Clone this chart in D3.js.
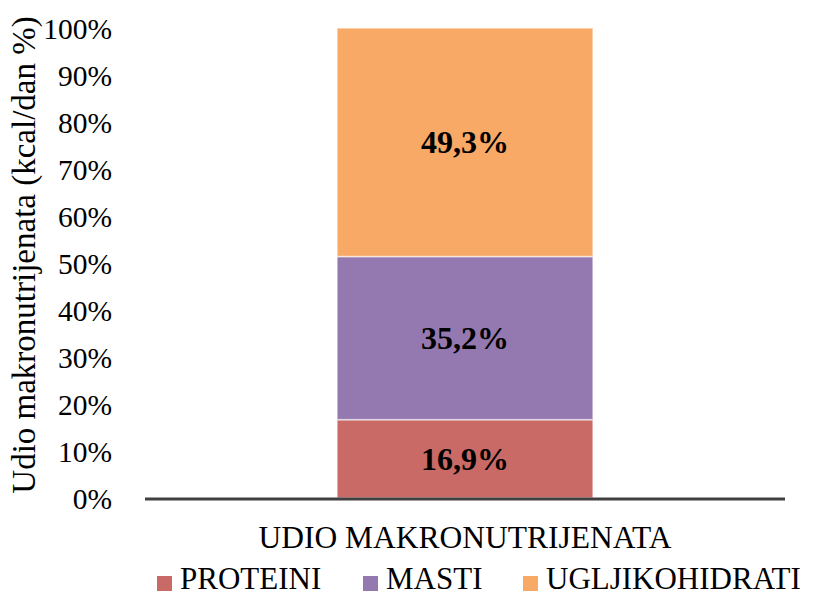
<!DOCTYPE html>
<html lang="en">
<head>
  <meta charset="UTF-8">
  <title>Udio makronutrijenata</title>
  <style>
    body { margin: 0; background: #fff; }
    svg text { font-family: "Liberation Serif", "Times New Roman", serif; fill: #000; }
  </style>
</head>
<body>
  <div id="chart"></div>
  <script src="https://d3js.org/d3.v7.min.js"></script>
  <script>
    // data
    var categories = ["UDIO MAKRONUTRIJENATA"];
    var seriesNames = ["PROTEINI", "MASTI", "UGLJIKOHIDRATI"];
    var seriesValues = [16.9, 35.2, 49.3];
    var seriesLabels = ["16,9%", "35,2%", "49,3%"];
    var seriesColors = ["#C96A66", "#9479B0", "#F7A965"];
    var yTicks = [0, 0.1, 0.2, 0.3, 0.4, 0.5, 0.6, 0.7, 0.8, 0.9, 1];

    var width = 814, height = 597;
    var margin = {top: 28, right: 29, bottom: 100, left: 145};
    var innerW = width - margin.left - margin.right,
        innerH = height - margin.top - margin.bottom;

    var svg = d3.select("#chart")
      .append("svg")
      .attr("width", width)
      .attr("height", height);

    var g = svg.append("g")
      .attr("transform", "translate(" + margin.left + "," + margin.top + ")");

    var x = d3.scaleBand()
      .domain(categories)
      .range([0, innerW])
      .paddingInner(0.6)
      .paddingOuter(0.3);

    var y = d3.scaleLinear()
      .domain([0, 1])
      .range([innerH + 1, 0]);

    // one row per category, one column per series
    var row = {cat: categories[0]};
    seriesNames.forEach(function(s, i) { row[s] = seriesValues[i]; });

    // 100% stacked, like the spreadsheet
    var stack = d3.stack()
      .keys(seriesNames)
      .offset(d3.stackOffsetExpand);
    var layers = stack([row]);

    // y axis labels
    var yAxis = g.append("g")
      .call(d3.axisLeft(y).tickValues(yTicks).tickFormat(d3.format(".0%")).tickSize(0).tickPadding(33));
    yAxis.select(".domain").remove();
    yAxis.selectAll("text")
      .style("font-size", "29.5px")
      .attr("font-family", null)
      .attr("dy", "0.35em");

    // bars
    layers.forEach(function(layer, i) {
      g.selectAll(null)
        .data(layer)
        .enter()
        .append("rect")
        .attr("x", function(d) { return x(d.data.cat); })
        .attr("y", function(d) { return y(d[1]); })
        .attr("width", x.bandwidth())
        .attr("height", function(d) { return y(d[0]) - y(d[1]); })
        .attr("fill", seriesColors[i])
        .attr("stroke", "#fff")
        .attr("stroke-opacity", 0.6)
        .attr("stroke-width", 1.5);

      g.selectAll(null)
        .data(layer)
        .enter()
        .append("text")
        .attr("x", function(d) { return x(d.data.cat) + x.bandwidth() / 2; })
        .attr("y", function(d) { return (y(d[0]) + y(d[1])) / 2; })
        .attr("dy", "0.35em")
        .attr("text-anchor", "middle")
        .style("font-size", "32px")
        .style("font-weight", "bold")
        .text(seriesLabels[i]);
    });

    // x axis line and category label
    g.append("line")
      .attr("x1", 0)
      .attr("x2", innerW)
      .attr("y1", y(0) + 1)
      .attr("y2", y(0) + 1)
      .attr("stroke", "#404040")
      .attr("stroke-width", 3);

    g.append("text")
      .attr("x", x(categories[0]) + x.bandwidth() / 2)
      .attr("y", innerH + 51)
      .attr("text-anchor", "middle")
      .style("font-size", "31.5px")
      .text(categories[0]);

    // y axis title
    svg.append("text")
      .attr("transform", "translate(35," + 255 + ") rotate(-90)")
      .attr("text-anchor", "middle")
      .style("font-size", "33px")
      .text("Udio makronutrijenata (kcal/dan %)");

    // legend
    var legendX = [157, 363, 523];
    var legend = svg.append("g")
      .attr("transform", "translate(0,589)");
    seriesNames.forEach(function(s, i) {
      legend.append("rect")
        .attr("x", legendX[i])
        .attr("y", -13)
        .attr("width", 15)
        .attr("height", 15)
        .attr("fill", seriesColors[i]);
      legend.append("text")
        .attr("x", legendX[i] + 23)
        .attr("y", 0)
        .style("font-size", "31px")
        .text(s);
    });
  </script>
</body>
</html>
